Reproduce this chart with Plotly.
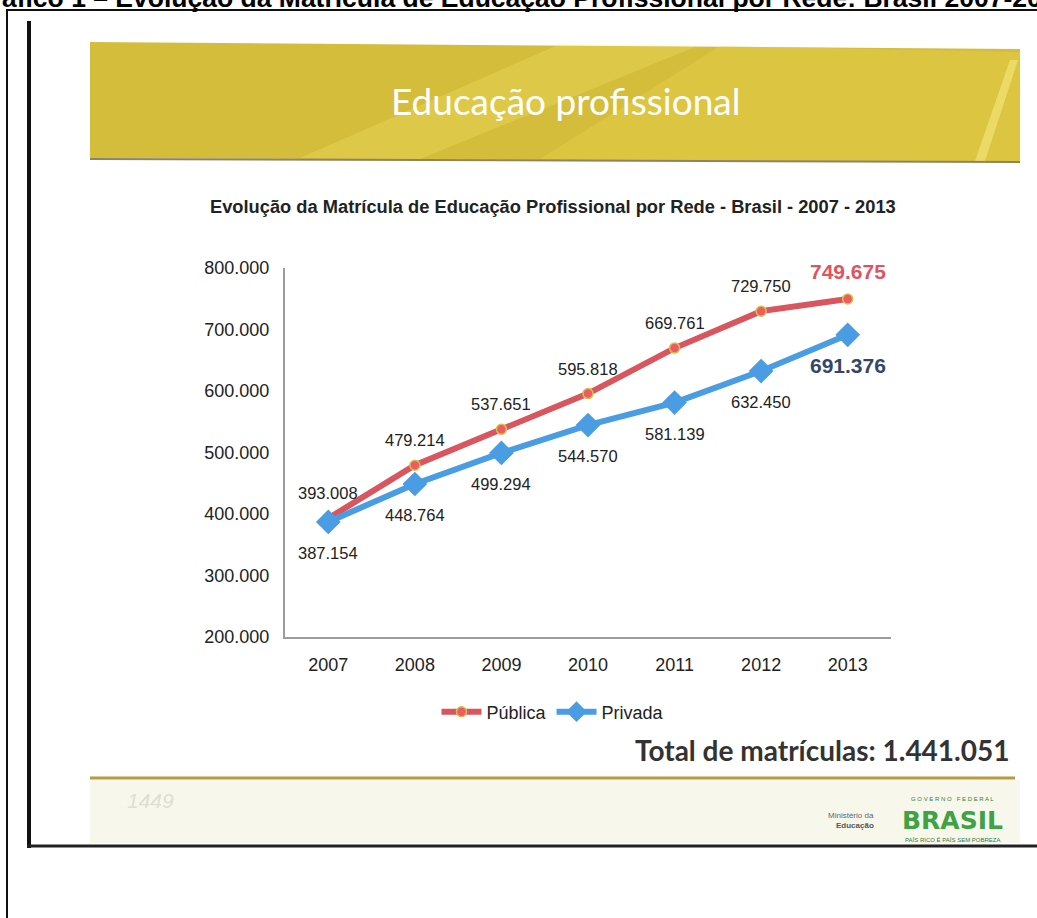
import plotly.graph_objects as go

# ---------------- data ----------------
years = ["2007", "2008", "2009", "2010", "2011", "2012", "2013"]
publica = [393008, 479214, 537651, 595818, 669761, 729750, 749675]
privada = [387154, 448764, 499294, 544570, 581139, 632450, 691376]
y_ticks = [200000, 300000, 400000, 500000, 600000, 700000, 800000]
series_names = ["Pública", "Privada"]
banner_title = "Educação profissional"
chart_title = "Evolução da Matrícula de Educação Profissional por Rede - Brasil - 2007 - 2013"
page_caption = "Gráfico 1 – Evolução da Matrícula de Educação Profissional por Rede: Brasil 2007-2013"
total_label = "Total de matrículas: 1.441.051"

# ---------------- helpers ----------------
W, H = 1037, 918


def px(x):
    return x / W


def py(y):
    return 1 - y / H


def fmt(v):
    return f"{v:,}".replace(",", ".")


ARIAL = "Liberation Sans, Arial, sans-serif"
NARROW = "Liberation Sans Narrow, Liberation Sans, Arial, sans-serif"
CAL = "Lato, Open Sans, sans-serif"

RED = "#d9565f"
BLUE = "#4a9de2"

fig = go.Figure()
fig.add_trace(go.Scatter(
    x=years, y=publica, name=series_names[0], mode="lines+markers",
    line=dict(color=RED, width=6),
    marker=dict(symbol="circle", size=10, color="#ec5c62",
                line=dict(color="#d3c24a", width=1.5)),
    hoverinfo="skip",
))
fig.add_trace(go.Scatter(
    x=years, y=privada, name=series_names[1], mode="lines+markers",
    line=dict(color=BLUE, width=6),
    marker=dict(symbol="diamond", size=19, color=BLUE),
    hoverinfo="skip",
))

annotations = []
n = len(years)
for i, v in enumerate(publica):
    last = i == n - 1
    annotations.append(dict(
        x=i, y=v, xref="x", yref="y", showarrow=False,
        text=f"<b>{fmt(v)}</b>" if last else fmt(v),
        yshift=27 if last else 25,
        font=dict(family=ARIAL, size=21 if last else 16.5,
                  color="#e0535f" if last else "#222222"),
    ))
for i, v in enumerate(privada):
    last = i == n - 1
    annotations.append(dict(
        x=i, y=v, xref="x", yref="y", showarrow=False,
        text=f"<b>{fmt(v)}</b>" if last else fmt(v),
        yshift=-31,
        font=dict(family=ARIAL, size=21 if last else 16.5,
                  color="#34476a" if last else "#222222"),
    ))

# page texts
annotations += [
    dict(x=px(-31), y=py(-2), xref="paper", yref="paper", xanchor="left", yanchor="middle",
         showarrow=False, text=f"<b>{page_caption}</b>",
         font=dict(family=ARIAL, size=26.5, color="#000000")),
    dict(x=px(565), y=py(101), xref="paper", yref="paper", xanchor="center", yanchor="middle",
         showarrow=False, text=banner_title,
         font=dict(family=CAL, size=37, color="#ffffff")),
    dict(x=px(553), y=py(206), xref="paper", yref="paper", xanchor="center", yanchor="middle",
         showarrow=False, text=f"<b>{chart_title}</b>",
         font=dict(family=NARROW, size=18.3, color="#222222")),
    dict(x=px(1011), y=py(750), xref="paper", yref="paper", xanchor="right", yanchor="middle",
         showarrow=False, text=f"<b>{total_label}</b>",
         font=dict(family=CAL, size=28, color="#333333")),
    dict(x=px(150), y=py(800), xref="paper", yref="paper", xanchor="center", yanchor="middle",
         showarrow=False, text="<i>1449</i>",
         font=dict(family=ARIAL, size=21, color="rgba(160,160,160,0.3)")),
    dict(x=px(876), y=py(815), xref="paper", yref="paper", xanchor="right", yanchor="middle",
         showarrow=False, text="Ministério da",
         font=dict(family=ARIAL, size=8, color="#666666")),
    dict(x=px(876), y=py(825), xref="paper", yref="paper", xanchor="right", yanchor="middle",
         showarrow=False, text="<b>Educação</b>",
         font=dict(family=ARIAL, size=8, color="#555555")),
    dict(x=px(952), y=py(799), xref="paper", yref="paper", xanchor="center", yanchor="middle",
         showarrow=False, text="G O V E R N O   F E D E R A L",
         font=dict(family=ARIAL, size=6, color="#2f7d3b")),
    dict(x=px(952), y=py(820), xref="paper", yref="paper", xanchor="center", yanchor="middle",
         showarrow=False, text="<b>BRASIL</b>",
         font=dict(family="DejaVu Sans, Liberation Sans, sans-serif", size=25, color="#3fa245")),
    dict(x=px(952), y=py(840), xref="paper", yref="paper", xanchor="center", yanchor="middle",
         showarrow=False, text="PAÍS RICO É PAÍS SEM POBREZA",
         font=dict(family=ARIAL, size=6, color="#2f7d3b")),
]


def pth(points):
    return "M " + " L ".join(f"{px(x):.5f},{py(y):.5f}" for x, y in points) + " Z"


shapes = [
    # frame lines
    dict(type="line", xref="paper", yref="paper", x0=px(6), x1=px(1040), y0=py(10), y1=py(10),
         line=dict(color="#111111", width=2)),
    dict(type="line", xref="paper", yref="paper", x0=px(7), x1=px(7), y0=py(10), y1=py(920),
         line=dict(color="#111111", width=2)),
    dict(type="line", xref="paper", yref="paper", x0=px(29), x1=px(29), y0=py(21), y1=py(848),
         line=dict(color="#111111", width=4)),
    dict(type="line", xref="paper", yref="paper", x0=px(27), x1=px(1040), y0=py(846), y1=py(846),
         line=dict(color="#222222", width=3)),
    # banner
    dict(type="path", xref="paper", yref="paper", layer="below",
         path=pth([(90, 42), (1020, 49), (1020, 162), (90, 158)]),
         fillcolor="#d5bd3c", line=dict(width=0)),
    dict(type="path", xref="paper", yref="paper", layer="below",
         path=pth([(300, 158), (560, 44), (700, 45), (420, 159)]),
         fillcolor="rgba(255,240,120,0.22)", line=dict(width=0)),
    dict(type="path", xref="paper", yref="paper", layer="below",
         path=pth([(540, 159), (720, 46), (1020, 52), (1020, 162)]),
         fillcolor="rgba(240,215,80,0.30)", line=dict(width=0)),
    dict(type="path", xref="paper", yref="paper", layer="below",
         path=pth([(975, 161), (1010, 60), (1018, 60), (985, 161)]),
         fillcolor="rgba(255,245,150,0.45)", line=dict(width=0)),
    dict(type="line", xref="paper", yref="paper", x0=px(90), x1=px(1020), y0=py(159), y1=py(162),
         line=dict(color="#8f8366", width=2)),
    # footer
    dict(type="rect", xref="paper", yref="paper", layer="below",
         x0=px(90), x1=px(1020), y0=py(780), y1=py(843),
         fillcolor="#f8f7eb", line=dict(width=0)),
    dict(type="line", xref="paper", yref="paper", x0=px(90), x1=px(1015), y0=py(778), y1=py(778),
         line=dict(color="#b8993f", width=3)),
]

fig.update_layout(
    width=W, height=H,
    margin=dict(l=0, r=0, t=0, b=0, pad=0, autoexpand=False),
    paper_bgcolor="#ffffff",
    plot_bgcolor="rgba(0,0,0,0)",
    separators=",.",
    font=dict(family=ARIAL, color="#222222"),
    showlegend=True,
    legend=dict(orientation="h", x=px(553), xanchor="center", y=py(712), yanchor="middle",
                font=dict(family=ARIAL, size=18, color="#222222"),
                bgcolor="rgba(0,0,0,0)", itemwidth=40, tracegroupgap=0),
    xaxis=dict(domain=[px(285), px(891)], type="category", range=[-0.5, 6.5],
               showline=True, linecolor="#9c9c9c", linewidth=2, showgrid=False,
               zeroline=False, ticks="", ticklabelstandoff=10, automargin=False,
               tickfont=dict(family=ARIAL, size=18, color="#222222")),
    yaxis=dict(domain=[py(637), py(268)], range=[200000, 800000], tickvals=y_ticks,
               tickformat=",d", showline=True, linecolor="#9c9c9c", linewidth=2,
               showgrid=False, zeroline=False, ticks="", ticklabelstandoff=10, automargin=False,
               tickfont=dict(family=ARIAL, size=18, color="#222222")),
    annotations=annotations,
    shapes=shapes,
)

pin_js = (
    "var d=document.getElementById('{plot_id}');"
    "d.style.position='fixed';d.style.left='0px';d.style.top='0px';"
    "document.body.style.margin='0';"
    "document.documentElement.style.overflow='hidden';"
    "document.body.style.overflow='hidden';"
)

fig.write_html("out.html", config={"displayModeBar": False}, post_script=pin_js)
